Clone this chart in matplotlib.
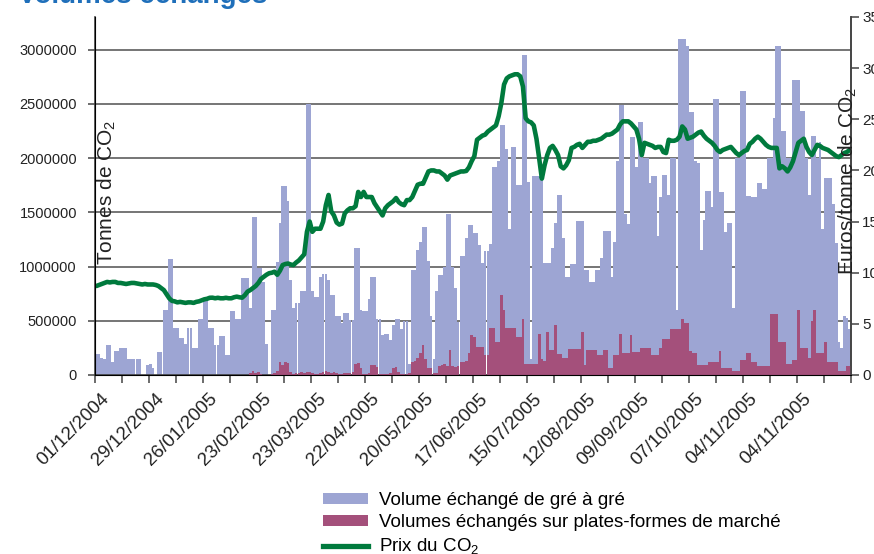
import matplotlib
matplotlib.use("Agg")
import matplotlib.pyplot as plt
from matplotlib.patches import Patch
from matplotlib.lines import Line2D
from matplotlib.transforms import ScaledTranslation
import numpy as np

plt.rcParams['font.family'] = ['Liberation Sans', 'DejaVu Sans']
plt.rcParams['mathtext.default'] = 'regular'

# ---- data (one value per trading day) ----
date_labels = ["01/12/2004", "29/12/2004", "26/01/2005", "23/02/2005", "23/03/2005",
               "22/04/2005", "20/05/2005", "17/06/2005", "15/07/2005", "12/08/2005",
               "09/09/2005", "07/10/2005", "04/11/2005", "04/11/2005"]

# OTC volumes (thousand tonnes)
otc_k = [
    190, 190, 160, 150, 280, 280, 120, 220, 220, 250,
    250, 250, 150, 150, 150, 150, 150, 0, 0, 90,
    100, 60, 0, 210, 210, 600, 600, 1070, 1070, 430,
    430, 340, 340, 290, 430, 430, 250, 250, 520, 520,
    680, 680, 430, 430, 280, 280, 360, 360, 180, 180,
    590, 590, 520, 520, 890, 890, 890, 615, 1460, 1460,
    985, 985, 860, 290, 0, 600, 600, 1040, 1400, 1740,
    1740, 1600, 880, 615, 660, 660, 770, 770, 2500, 2500,
    770, 720, 720, 900, 930, 930, 880, 740, 740, 540,
    540, 480, 570, 570, 510, 510, 1170, 1170, 600, 590,
    590, 700, 900, 900, 520, 520, 370, 380, 380, 320,
    460, 520, 520, 420, 500, 500, 100, 970, 970, 1150,
    1230, 1360, 1360, 1050, 540, 150, 770, 920, 920, 1000,
    1480, 1480, 1000, 800, 490, 1100, 1100, 1260, 1380, 1380,
    1310, 1310, 1200, 1030, 1140, 1140, 1210, 1920, 1920, 1970,
    2300, 2300, 2080, 1350, 2100, 2100, 1750, 1750, 2950, 2950,
    1780, 150, 1830, 1830, 1830, 1800, 1030, 1030, 1030, 1170,
    1400, 1660, 1660, 1260, 900, 900, 1020, 1020, 1420, 1420,
    1420, 970, 970, 860, 860, 970, 970, 1080, 1330, 1330,
    1330, 900, 1230, 1970, 2490, 2490, 1480, 1390, 2190, 2190,
    1920, 2330, 2330, 2000, 2000, 1770, 1830, 1830, 1280, 1640,
    1840, 1840, 1660, 2000, 2000, 600, 3100, 3100, 3100, 3030,
    2420, 2420, 1970, 1950, 1150, 1430, 1700, 1700, 1550, 2540,
    2540, 1690, 1690, 1320, 1400, 1400, 620, 2000, 2000, 2620,
    2620, 1650, 1650, 1640, 1640, 1770, 1770, 1710, 1710, 2000,
    2000, 2370, 3030, 3030, 2250, 2250, 2000, 2000, 2720, 2720,
    2720, 2430, 2430, 2000, 1660, 2200, 2200, 2000, 2150, 1350,
    1820, 1820, 1820, 1580, 1220, 300, 250, 540, 530, 420,
]

# exchange-platform volumes (thousand tonnes)
exch_k = [0] * 57 + [
    20, 40, 20,
    30, 10, 0, 0, 0, 10, 20, 40, 120, 90,
    120, 110, 30, 10, 15, 20, 25, 20, 30, 30,
    20, 10, 10, 20, 30, 40, 30, 20, 25, 15,
    10, 10, 15, 20, 20, 30, 100, 110, 60, 10,
    10, 20, 90, 90, 70, 10, 10, 5, 10, 20,
    60, 70, 30, 10, 10, 10, 20, 120, 130, 160,
    200, 280, 150, 60, 60, 20, 20, 80, 90, 100,
    80, 230, 80, 70, 80, 120, 120, 130, 200, 370,
    350, 260, 260, 260, 180, 180, 430, 430, 300, 300,
    740, 600, 430, 430, 430, 430, 350, 350, 520, 100,
    100, 100, 100, 100, 380, 150, 130, 400, 230, 230,
    460, 190, 190, 160, 160, 240, 240, 240, 240, 240,
    400, 90, 230, 230, 230, 230, 180, 180, 230, 230,
    60, 60, 180, 180, 380, 200, 200, 200, 370, 210,
    210, 210, 250, 250, 250, 250, 180, 180, 180, 250,
    330, 330, 330, 420, 420, 420, 420, 520, 480, 480,
    220, 200, 200, 90, 90, 90, 90, 120, 120, 120,
    120, 220, 60, 60, 60, 60, 40, 40, 40, 140,
    140, 200, 200, 120, 120, 80, 80, 80, 80, 80,
    560, 560, 560, 300, 300, 300, 100, 100, 140, 140,
    600, 250, 250, 250, 160, 500, 600, 200, 200, 200,
    300, 120, 120, 120, 120, 40, 40, 40, 80, 80,
]

# CO2 price (EUR / t)
price = [
    8.7, 8.8, 8.9, 9.0, 9.1, 9.05, 9.1, 9.1, 9.0, 9.0,
    8.95, 8.9, 8.95, 9.0, 9.0, 8.95, 8.9, 8.85, 8.9, 8.85,
    8.85, 8.85, 8.8, 8.7, 8.5, 8.3, 7.9, 7.5, 7.25, 7.2,
    7.1, 7.15, 7.1, 7.05, 7.1, 7.1, 7.05, 7.15, 7.2, 7.3,
    7.4, 7.45, 7.55, 7.56, 7.5, 7.55, 7.5, 7.5, 7.55, 7.5,
    7.5, 7.6, 7.66, 7.6, 7.56, 7.8, 8.15, 8.3, 8.5, 8.7,
    9.0, 9.4, 9.6, 9.8, 9.95, 10.0, 10.1, 9.8, 10.2, 10.75,
    10.85, 10.9, 10.8, 10.75, 11.0, 11.2, 11.5, 11.8, 14.0, 15.0,
    14.0, 14.3, 14.3, 14.3, 15.0, 16.6, 17.6, 16.0, 15.6, 14.9,
    14.7, 14.8, 15.8, 16.1, 16.3, 16.3, 16.5, 17.9, 17.4, 17.9,
    17.4, 17.4, 17.4, 16.8, 16.4, 16.0, 15.6, 16.3, 16.6, 16.8,
    17.0, 17.3, 16.9, 16.7, 16.6, 17.1, 17.1, 17.4, 18.0, 18.6,
    18.7, 18.7, 19.3, 19.9, 20.0, 20.0, 19.9, 19.9, 19.7, 19.5,
    19.1, 19.5, 19.6, 19.7, 19.8, 19.9, 19.9, 19.95, 20.3, 20.9,
    21.4, 23.0, 23.2, 23.4, 23.5, 23.8, 24.0, 24.2, 24.4, 25.3,
    26.6, 28.4, 29.0, 29.2, 29.3, 29.4, 29.4, 29.2, 28.2, 25.1,
    24.8, 24.7, 24.4, 23.1, 21.2, 19.2, 20.5, 21.5, 22.2, 22.4,
    22.0, 21.5, 20.4, 20.2, 20.5, 21.0, 22.2, 22.3, 22.5, 22.6,
    22.2, 22.5, 22.8, 22.8, 22.9, 22.9, 23.0, 23.1, 23.3, 23.5,
    23.5, 23.6, 23.8, 24.0, 24.5, 24.8, 24.8, 24.8, 24.6, 24.3,
    24.0, 23.1, 21.5, 22.7, 22.6, 22.5, 22.4, 22.2, 22.3, 22.3,
    21.8, 21.7, 23.0, 22.9, 22.9, 23.0, 23.3, 24.3, 24.0, 23.1,
    23.2, 23.3, 23.5, 23.7, 23.8, 23.4, 23.1, 22.9, 22.7, 22.4,
    22.0, 21.8, 22.0, 22.1, 22.2, 22.3, 22.0, 21.7, 21.5, 21.7,
    21.9, 22.0, 22.6, 22.8, 23.1, 23.3, 23.1, 22.8, 22.5, 22.3,
    22.2, 22.2, 22.2, 20.2, 20.4, 20.2, 19.9, 20.3, 20.9, 21.8,
    22.7, 22.9, 23.1, 22.3, 21.8, 21.5, 22.0, 22.5, 22.4, 22.2,
    22.1, 22.0, 21.8, 21.6, 21.4, 21.3, 21.5, 21.7, 21.8, 22.0,
]

legend_labels = ["Volume échangé de gré à gré",
                 "Volumes échangés sur plates-formes de marché",
                 "Prix du CO$_2$"]

# ---- styling ----
c_otc = "#9da5d3"
c_exch = "#a4507b"
c_price = "#007a3d"
c_grid = "#6a6a6a"
c_axis = "#444444"

W, H = 874, 554
fig = plt.figure(figsize=(W / 100, H / 100), dpi=100)
ax = fig.add_axes([95 / W, (H - 375) / H, 756 / W, 358 / H])

n = len(otc_k)
x = np.arange(n)
otc = np.array(otc_k) * 1000
exch = np.array(exch_k) * 1000

ax.bar(x, otc, width=1.0, color=c_otc, linewidth=0, zorder=2)
ax.bar(x, exch, width=1.0, color=c_exch, linewidth=0, zorder=3)

ax.set_xlim(-0.5, n - 0.5)
ax.set_ylim(0, 3300000)
ax.set_yticks(np.arange(0, 3000001, 500000))
ax.set_yticklabels([str(v) for v in range(0, 3000001, 500000)])
ax.set_axisbelow(True)
for v in range(500000, 3000001, 500000):
    ax.axhline(v, color=c_grid, lw=1.3, zorder=0.5)

ticks = np.arange(-0.5, n, 10)
ax.set_xticks(ticks)
ax.set_xticklabels([])
lab_tr = ax.get_xaxis_transform() + ScaledTranslation(18 / 100, -15 / 100, fig.dpi_scale_trans)
for i, t in enumerate(ticks[::2]):
    if i < len(date_labels):
        ax.text(t, 0, date_labels[i], transform=lab_tr, rotation=45, ha="right", va="top",
                fontsize=13.5, color="#222222", clip_on=False)

ax.tick_params(axis="x", length=6, width=1.1, color=c_axis, direction="out")
ax.tick_params(axis="y", length=5, width=1.1, color=c_axis, labelsize=10.5,
               labelcolor="#222222", pad=8, direction="out")
ax.spines["top"].set_visible(False)
for s in ["left", "bottom", "right"]:
    ax.spines[s].set_color(c_axis)
    ax.spines[s].set_linewidth(1.2)

ax.text(0.016, 0.307, "Tonnes de CO$_2$", transform=ax.transAxes, rotation=90,
        ha="center", va="bottom", fontsize=15, color="#222222", zorder=5)

ax2 = ax.twinx()
ax2.plot(x, price, color=c_price, lw=3.3, solid_joinstyle="round", solid_capstyle="round")
ax2.set_ylim(0, 35)
ax2.set_yticks(np.arange(0, 36, 5))
ax2.tick_params(axis="y", length=6, width=1.1, color=c_axis, labelsize=11,
                labelcolor="#222222", pad=2)
ax2.spines["top"].set_visible(False)
ax2.spines["right"].set_color(c_axis)
ax2.spines["right"].set_linewidth(1.2)
ax2.text(0.996, 0.279, "Euros/tonne de CO$_2$", transform=ax2.transAxes, rotation=90,
         ha="center", va="bottom", fontsize=15, color="#222222", zorder=5)

fig.text(18 / W, 1 - 3 / H, "Volumes échangés", fontsize=20, fontweight="bold",
         color="#1f6fba", ha="left", va="baseline")

handles = [Patch(facecolor=c_otc, edgecolor="none"),
           Patch(facecolor=c_exch, edgecolor="none"),
           Line2D([0], [0], color=c_price, lw=3.8)]
fig.legend(handles, legend_labels, loc="upper left", bbox_to_anchor=(323 / W, 1 - 492 / H),
           frameon=False, fontsize=13.5, handlelength=2.4, handleheight=0.5,
           handletextpad=0.6, labelspacing=0.28, borderpad=0, borderaxespad=0)

fig.savefig("out.png", dpi=100)
